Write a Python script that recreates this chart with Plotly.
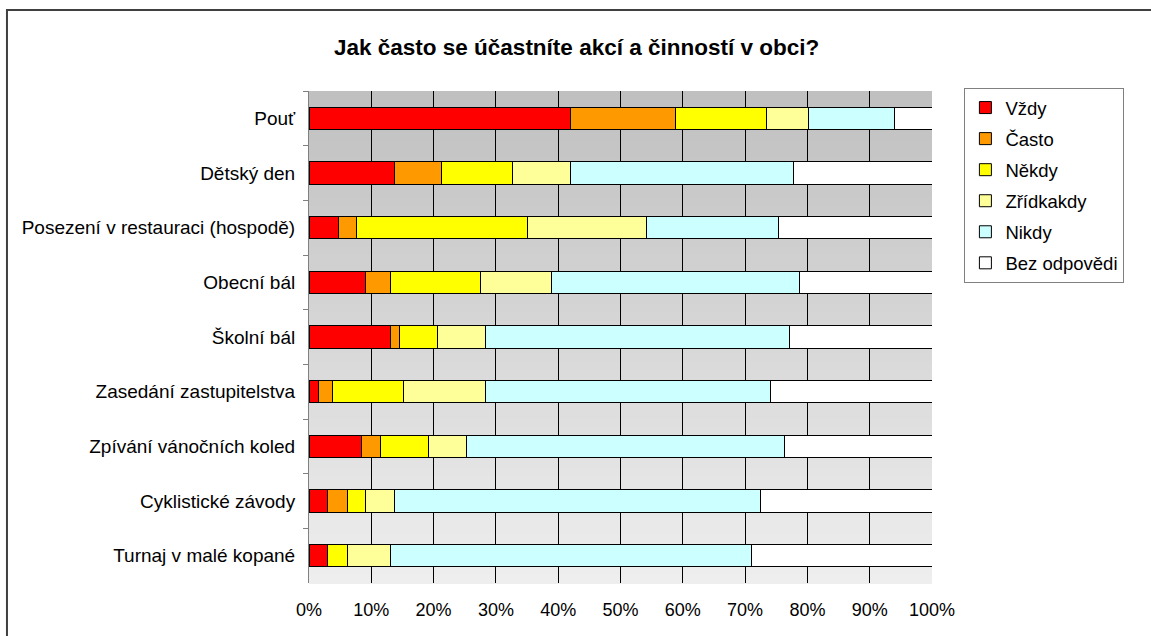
import numpy as np
import plotly.graph_objects as go

# categories (top to bottom) and answer shares in %
categories = ["Pouť", "Dětský den", "Posezení v restauraci (hospodě)", "Obecní bál",
              "Školní bál", "Zasedání zastupitelstva", "Zpívání vánočních koled",
              "Cyklistické závody", "Turnaj v malé kopané"]

vzdy = [42.0, 13.7, 4.7, 9.1, 13.1, 1.6, 8.4, 3.0, 3.0]
casto = [16.9, 7.6, 3.0, 4.0, 1.4, 2.2, 3.1, 3.1, 0.0]
nekdy = [14.5, 11.4, 27.3, 14.5, 6.1, 11.4, 7.7, 3.0, 3.2]
zridkakdy = [6.7, 9.3, 19.2, 11.4, 7.7, 13.1, 6.1, 4.7, 6.9]
nikdy = [13.8, 35.8, 21.2, 39.8, 48.8, 45.8, 51.1, 58.6, 58.0]
bez_odpovedi = [6.1, 22.2, 24.6, 21.2, 22.9, 25.9, 23.6, 27.6, 28.9]

series = [("Vždy", vzdy, "#FF0000"),
          ("Často", casto, "#FF9900"),
          ("Někdy", nekdy, "#FFFF00"),
          ("Zřídkakdy", zridkakdy, "#FFFF99"),
          ("Nikdy", nikdy, "#CCFFFF"),
          ("Bez odpovědi", bez_odpovedi, "#FFFFFF")]

FONT = "Liberation Sans, Arial, sans-serif"

fig = go.Figure()
for name, vals, col in series:
    fig.add_trace(go.Bar(
        y=categories, x=vals, name=name, orientation="h",
        marker=dict(color=col, line=dict(color="black", width=1)),
        legendgroup=name,
    ))

# plot area gradient (dark gray top -> light gray bottom)
shapes = []
n = 60
edges = np.linspace(1, 0, n + 1)
greys = np.linspace(192, 238, n)
for i in range(n):
    g = int(round(greys[i]))
    shapes.append(dict(type="rect", xref="x domain", yref="y domain",
                       x0=0, x1=1, y0=edges[i + 1] - 0.002, y1=edges[i],
                       fillcolor=f"rgb({g},{g},{g})", line=dict(width=0),
                       layer="below"))
# chart frame: only its left and top edges fall inside the window
shapes.append(dict(type="path", xref="paper", yref="paper",
                   path="M -0.4848,-0.5 L -0.4848,1.1646 L 1.6,1.1646",
                   line=dict(color="#404040", width=2), layer="above"))

# figure is a bit larger than the window, the page is not scrolled
fig.update_layout(
    width=1170, height=660,
    margin=dict(l=309, r=238, t=91, b=77),
    barmode="stack", barnorm="percent", bargap=0.59,
    paper_bgcolor="white", plot_bgcolor="rgb(192,192,192)",
    font=dict(family=FONT, size=18, color="black"),
    shapes=shapes,
    showlegend=True,
    legend=dict(x=1.052, y=1.006, xanchor="left", yanchor="top",
                bordercolor="#808080", borderwidth=1, bgcolor="white",
                traceorder="grouped", tracegroupgap=4,
                font=dict(family=FONT, size=18.5)),
    annotations=[dict(text="<b>Jak často se účastníte akcí a činností v obci?</b>",
                      xref="paper", yref="paper", x=0.4286, y=1.0894,
                      xanchor="center", yanchor="middle", showarrow=False,
                      font=dict(family=FONT, size=22.5, color="black"))],
    xaxis=dict(range=[0, 100], dtick=10, ticksuffix="%", showgrid=True,
               gridcolor="black", gridwidth=1, zeroline=False, showline=False,
               ticks="", ticklabelstandoff=14, fixedrange=True),
    xaxis2=dict(range=[0, 100], dtick=10, overlaying="x", side="top", anchor="y",
                showticklabels=False, ticks="outside", ticklen=5, tickcolor="black",
                showline=True, linecolor="black", linewidth=1, showgrid=False,
                zeroline=False),
    yaxis=dict(autorange="reversed", tickson="boundaries", ticks="outside",
               ticklen=5, tickcolor="#808080", showline=True, linecolor="#808080",
               linewidth=1, showgrid=False, ticklabelstandoff=9,
               tickfont=dict(family=FONT, size=19)),
)

fig.write_html("out.html", config={"displayModeBar": False}, post_script=(
    "document.body.style.margin='0';"
    "document.documentElement.style.overflow='hidden';"))
